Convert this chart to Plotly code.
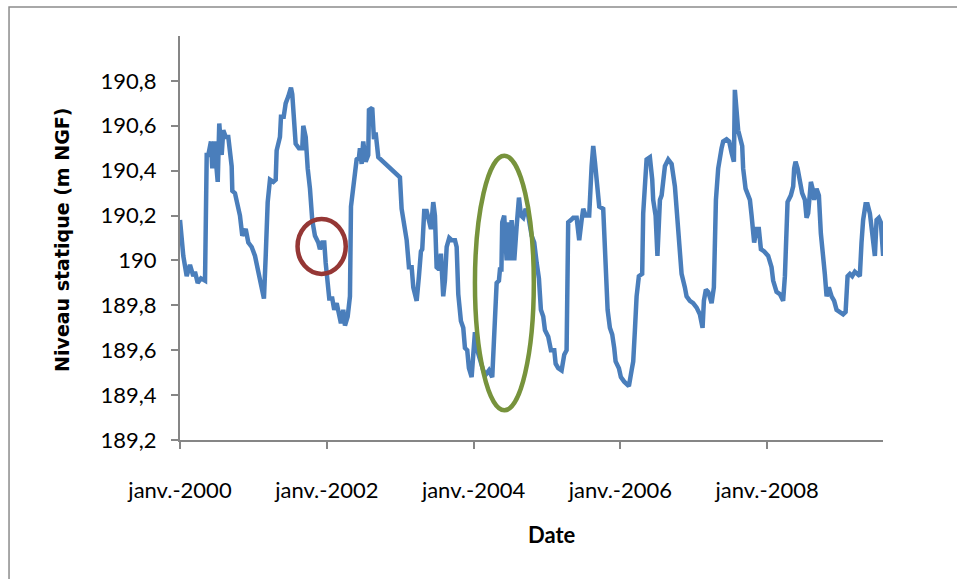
import numpy as np
import pandas as pd
import plotly.graph_objects as go

# Decimal years (time of each measurement)
decimal_year = [
    2000.000, 2000.045, 2000.091, 2000.136, 2000.181, 2000.204, 2000.241, 2000.286, 2000.341, 2000.364,
    2000.386, 2000.422, 2000.440, 2000.467, 2000.514, 2000.535, 2000.568, 2000.590, 2000.623, 2000.658,
    2000.704, 2000.713, 2000.749, 2000.772, 2000.817, 2000.849, 2000.895, 2000.931, 2000.977, 2001.022,
    2001.059, 2001.104, 2001.144, 2001.168, 2001.195, 2001.226, 2001.271, 2001.304, 2001.317, 2001.362,
    2001.376, 2001.413, 2001.440, 2001.475, 2001.512, 2001.530, 2001.557, 2001.576, 2001.621, 2001.666,
    2001.680, 2001.713, 2001.740, 2001.771, 2001.802, 2001.839, 2001.884, 2001.907, 2001.939, 2001.966,
    2001.985, 2002.020, 2002.034, 2002.075, 2002.102, 2002.135, 2002.166, 2002.193, 2002.225, 2002.248,
    2002.285, 2002.316, 2002.330, 2002.361, 2002.394, 2002.407, 2002.439, 2002.452, 2002.475, 2002.497,
    2002.530, 2002.565, 2002.575, 2002.620, 2002.643, 2002.666, 2002.702, 2002.997, 2003.020, 2003.065,
    2003.089, 2003.120, 2003.157, 2003.179, 2003.225, 2003.256, 2003.283, 2003.301, 2003.328, 2003.361,
    2003.392, 2003.420, 2003.451, 2003.474, 2003.497, 2003.529, 2003.556, 2003.587, 2003.610, 2003.634,
    2003.669, 2003.702, 2003.747, 2003.770, 2003.792, 2003.828, 2003.860, 2003.883, 2003.914, 2003.937,
    2003.974, 2003.996, 2004.019, 2004.042, 2004.087, 2004.132, 2004.165, 2004.210, 2004.255, 2004.268,
    2004.301, 2004.315, 2004.346, 2004.360, 2004.380, 2004.391, 2004.418, 2004.451, 2004.473, 2004.496,
    2004.519, 2004.555, 2004.587, 2004.619, 2004.646, 2004.677, 2004.710, 2004.745, 2004.792, 2004.827,
    2004.860, 2004.891, 2004.918, 2004.950, 2004.973, 2005.018, 2005.055, 2005.100, 2005.119, 2005.154,
    2005.200, 2005.236, 2005.268, 2005.290, 2005.327, 2005.358, 2005.405, 2005.440, 2005.473, 2005.495,
    2005.527, 2005.576, 2005.609, 2005.631, 2005.654, 2005.677, 2005.699, 2005.713, 2005.767, 2005.790,
    2005.827, 2005.858, 2005.890, 2005.917, 2005.936, 2005.981, 2006.008, 2006.053, 2006.117, 2006.154,
    2006.176, 2006.199, 2006.222, 2006.253, 2006.298, 2006.312, 2006.335, 2006.358, 2006.403, 2006.435,
    2006.448, 2006.481, 2006.506, 2006.540, 2006.563, 2006.608, 2006.653, 2006.699, 2006.744, 2006.767,
    2006.812, 2006.835, 2006.880, 2006.903, 2006.948, 2006.993, 2007.040, 2007.084, 2007.121, 2007.139,
    2007.166, 2007.198, 2007.244, 2007.275, 2007.303, 2007.334, 2007.380, 2007.402, 2007.448, 2007.484,
    2007.516, 2007.548, 2007.561, 2007.606, 2007.661, 2007.674, 2007.707, 2007.766, 2007.789, 2007.824,
    2007.857, 2007.888, 2007.916, 2007.961, 2008.015, 2008.061, 2008.083, 2008.129, 2008.174, 2008.219,
    2008.243, 2008.266, 2008.279, 2008.324, 2008.356, 2008.369, 2008.388, 2008.416, 2008.447, 2008.478,
    2008.515, 2008.538, 2008.560, 2008.597, 2008.620, 2008.642, 2008.674, 2008.706, 2008.733, 2008.764,
    2008.787, 2008.811, 2008.842, 2008.879, 2008.914, 2008.947, 2008.992, 2009.037, 2009.070, 2009.097,
    2009.128, 2009.160, 2009.196, 2009.264, 2009.287, 2009.309, 2009.342, 2009.369, 2009.401, 2009.432,
    2009.469, 2009.492, 2009.523, 2009.550, 2009.582,
]

# Niveau statique (m NGF)
niveau = [
    190.18, 190.02, 189.93, 189.98, 189.93, 189.95, 189.90, 189.92, 189.91, 190.47,
    190.47, 190.53, 190.41, 190.53, 190.35, 190.61, 190.47, 190.58, 190.55, 190.55,
    190.42, 190.31, 190.30, 190.26, 190.20, 190.11, 190.14, 190.08, 190.06, 190.02,
    189.96, 189.90, 189.83, 190.02, 190.26, 190.36, 190.35, 190.36, 190.49, 190.55,
    190.64, 190.64, 190.70, 190.73, 190.77, 190.74, 190.61, 190.52, 190.50, 190.50,
    190.60, 190.55, 190.41, 190.32, 190.18, 190.11, 190.08, 190.05, 190.08, 190.08,
    189.99, 189.90, 189.83, 189.83, 189.78, 189.81, 189.75, 189.72, 189.78, 189.71,
    189.75, 189.84, 190.24, 190.33, 190.39, 190.45, 190.46, 190.50, 190.43, 190.53,
    190.44, 190.47, 190.67, 190.68, 190.54, 190.57, 190.46, 190.37, 190.23, 190.14,
    190.09, 189.97, 189.97, 189.88, 189.82, 189.93, 190.04, 190.05, 190.22, 190.22,
    190.18, 190.14, 190.26, 190.20, 189.97, 189.96, 190.03, 189.84, 189.91, 190.06,
    190.10, 190.09, 190.09, 190.06, 189.85, 189.73, 189.70, 189.61, 189.60, 189.52,
    189.48, 189.58, 189.68, 189.61, 189.55, 189.51, 189.49, 189.51, 189.48, 189.57,
    189.73, 189.90, 189.91, 189.96, 189.96, 190.17, 190.20, 190.00, 190.17, 190.00,
    190.18, 190.00, 190.15, 190.28, 190.20, 190.19, 190.23, 190.20, 190.11, 190.08,
    189.99, 189.92, 189.78, 189.75, 189.69, 189.66, 189.60, 189.60, 189.54, 189.52,
    189.51, 189.58, 189.60, 190.17, 190.18, 190.19, 190.19, 190.09, 190.18, 190.23,
    190.20, 190.20, 190.42, 190.51, 190.44, 190.36, 190.33, 190.24, 190.23, 190.02,
    189.78, 189.70, 189.67, 189.61, 189.55, 189.52, 189.48, 189.46, 189.44, 189.51,
    189.55, 189.69, 189.84, 189.93, 189.94, 190.21, 190.33, 190.45, 190.46, 190.36,
    190.27, 190.20, 190.02, 190.27, 190.29, 190.42, 190.45, 190.43, 190.33, 190.23,
    190.08, 189.94, 189.88, 189.84, 189.82, 189.81, 189.79, 189.76, 189.70, 189.82,
    189.87, 189.86, 189.81, 189.88, 190.27, 190.41, 190.50, 190.53, 190.54, 190.53,
    190.48, 190.44, 190.76, 190.58, 190.51, 190.41, 190.32, 190.27, 190.20, 190.08,
    190.14, 190.14, 190.05, 190.04, 190.02, 189.97, 189.91, 189.86, 189.85, 189.82,
    189.93, 190.14, 190.26, 190.29, 190.33, 190.41, 190.44, 190.41, 190.35, 190.30,
    190.27, 190.19, 190.21, 190.35, 190.32, 190.27, 190.32, 190.29, 190.12, 190.03,
    189.94, 189.84, 189.88, 189.84, 189.82, 189.78, 189.77, 189.76, 189.77, 189.93,
    189.94, 189.93, 189.95, 189.93, 190.08, 190.18, 190.25, 190.25, 190.21, 190.12,
    190.02, 190.18, 190.19, 190.17, 190.02,
]

x_tick_dates = ["2000-01-01", "2002-01-01", "2004-01-01", "2006-01-01", "2008-01-01"]
x_tick_labels = ["janv.-2000", "janv.-2002", "janv.-2004", "janv.-2006", "janv.-2008"]
y_tick_vals = [189.2, 189.4, 189.6, 189.8, 190.0, 190.2, 190.4, 190.6, 190.8]
y_tick_labels = ["189,2", "189,4", "189,6", "189,8", "190", "190,2", "190,4", "190,6", "190,8"]

x_range = ["2000-01-01", "2009-07-31"]
y_range = [189.2, 191.0]

# Highlighted zones (date / level extents)
red_zone = dict(x0="2001-08-08", x1="2002-04-05", y0=189.94, y1=190.185)
green_zone = dict(x0="2004-01-08", x1="2004-10-27", y0=189.332, y1=190.466)

dates = pd.Timestamp("2000-01-01") + pd.to_timedelta((np.array(decimal_year) - 2000.0) * 365.25, unit="D")

fig = go.Figure()
fig.add_trace(go.Scatter(
    x=dates, y=niveau, mode="lines",
    line=dict(color="#4A7EBB", width=4.5),
    showlegend=False, hoverinfo="x+y",
))

axis_color = "#868686"
tick_font = dict(family="Lato, Open Sans, sans-serif", size=22, color="#000000")

fig.update_layout(
    width=957, height=579,
    margin=dict(l=180, r=74, t=36, b=139),
    paper_bgcolor="white", plot_bgcolor="white",
    showlegend=False,
    xaxis=dict(
        type="date", range=x_range,
        tickmode="array", tickvals=x_tick_dates, ticktext=x_tick_labels,
        showgrid=False, zeroline=False,
        showline=True, linecolor=axis_color, linewidth=2,
        ticks="outside", ticklen=7, tickwidth=2, tickcolor=axis_color,
        tickfont=tick_font, ticklabelstandoff=23,
    ),
    yaxis=dict(
        range=y_range,
        tickmode="array", tickvals=y_tick_vals, ticktext=y_tick_labels,
        showgrid=False, zeroline=False,
        showline=True, linecolor=axis_color, linewidth=2,
        ticks="outside", ticklen=7, tickwidth=2, tickcolor=axis_color,
        tickfont=tick_font, ticklabelstandoff=10,
    ),
    shapes=[
        dict(type="circle", xref="x", yref="y", **red_zone,
             line=dict(color="#953735", width=4.5)),
        dict(type="circle", xref="x", yref="y", **green_zone,
             line=dict(color="#77933C", width=4.5)),
        dict(type="rect", xref="paper", yref="paper",
             x0=-0.2432, x1=1.1095, y0=-0.359, y1=1.0718,
             line=dict(color="#8C8C8C", width=1.5), fillcolor="rgba(0,0,0,0)"),
    ],
    annotations=[
        dict(text="<b>Date</b>", xref="paper", yref="paper", x=0.529, y=-0.235,
             xanchor="center", yanchor="middle", showarrow=False,
             font=dict(family="Lato, Open Sans, sans-serif", size=22, color="#000000")),
        dict(text="<b>Niveau statique (m NGF)</b>", xref="paper", yref="paper",
             x=-0.168, y=0.495, xanchor="center", yanchor="middle", textangle=-90,
             showarrow=False,
             font=dict(family="DejaVu Sans, Verdana, sans-serif", size=19, color="#000000")),
    ],
)

fig.write_html("out.html")
